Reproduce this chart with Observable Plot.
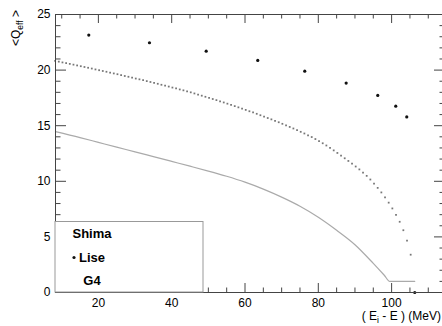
<!DOCTYPE html>
<html><head><meta charset="utf-8">
<script src="https://cdn.jsdelivr.net/npm/d3@7"></script>
<script src="https://cdn.jsdelivr.net/npm/@observablehq/plot@0.6"></script>
<style>html,body{margin:0;padding:0;background:#fff;overflow:hidden;} #chart svg{display:block;}</style>
</head><body><div id="chart"></div>
<script>
// ---- data ----
const shimaE = [8.2,9.2,10.2,11.2,12.2,13.2,14.2,15.2,16.2,17.2,
  18.2,19.2,20.2,21.2,22.2,23.2,24.2,25.2,26.2,27.2,
  28.2,29.2,30.2,31.2,32.2,33.2,34.2,35.2,36.2,37.2,
  38.2,39.2,40.2,41.2,42.2,43.2,44.2,45.2,46.2,47.2,
  48.2,49.2,50.2,51.2,52.2,53.2,54.2,55.2,56.2,57.2,
  58.2,59.2,60.2,61.2,62.2,63.2,64.2,65.2,66.2,67.2,
  68.2,69.2,70.2,71.2,72.2,73.2,74.2,75.2,76.2,77.2,
  78.2,79.2,80.2,81.2,82.2,83.2,84.2,85.2,86.2,87.2,
  88.2,89.2,90.2,91.2,92.2,93.2,94.2,95.2,96.2,97.2,
  98.2,99.2,100.2,101.2,102.2,103.2,104.2,105.2];
const shimaQ = [20.83,20.76,20.69,20.63,20.56,20.49,20.42,20.35,20.28,20.21,
  20.14,20.06,19.99,19.92,19.85,19.77,19.70,19.63,19.55,19.47,
  19.40,19.32,19.24,19.17,19.09,19.01,18.93,18.85,18.77,18.68,
  18.60,18.52,18.43,18.35,18.26,18.18,18.09,18.00,17.90,17.80,
  17.70,17.60,17.50,17.40,17.30,17.19,17.09,16.98,16.87,16.76,
  16.65,16.53,16.42,16.30,16.19,16.07,15.94,15.82,15.69,15.57,
  15.44,15.31,15.17,15.03,14.89,14.75,14.60,14.45,14.30,14.14,
  13.98,13.80,13.61,13.42,13.22,13.01,12.78,12.55,12.31,12.07,
  11.83,11.58,11.33,11.07,10.79,10.49,10.16,9.80,9.41,9.00,
  8.56,8.08,7.56,6.99,6.36,5.60,4.66,3.40];
const liseE = [17.38,33.94,49.41,63.48,76.30,87.60,96.22,101.13,104.13,106.31];
const liseQ = [23.15,22.46,21.70,20.87,19.90,18.83,17.72,16.76,15.79,0];
const g4E = [8.3,15,20,25,30,35,40,45,50,55,60,65,70,75,80,85,90,95,98,99.5,106.3];
const g4Q = [14.46,13.93,13.5,13.07,12.65,12.22,11.79,11.36,10.92,10.45,9.92,9.3,8.58,7.76,6.77,5.6,4.3,2.62,1.55,1.0,1.0];
const xTicks = [20,40,60,80,100];
const xMinor = [10,15,25,30,35,45,50,55,65,70,75,85,90,95,105,110];
const yTicks = [0,5,10,15,20,25];
const yMinor = [1,2,3,4,6,7,8,9,11,12,13,14,16,17,18,19,21,22,23,24];
const legendLabels = ["Shima","Lise","G4"];
const yLabel = ["<Q", "eff", " >"];
const xLabel = ["( E", "i", " - E ) (MeV)"];

// ---- layout ----
const W = 442, H = 326, mL = 55, mR = -3, mT = 14, mB = 34;
const plotW = W - mL - mR, plotH = H - mT - mB;
const axisCol = "#444";
const font = "'Liberation Sans', Arial, Helvetica, sans-serif";

const shima = shimaE.map((e,i)=>({e, q: shimaQ[i]}));
const lise = liseE.map((e,i)=>({e, q: liseQ[i]}));
const g4 = g4E.map((e,i)=>({e, q: g4Q[i]}));

const svg = Plot.plot({
  width: W, height: H,
  marginLeft: mL, marginRight: mR, marginTop: mT, marginBottom: mB,
  x: {domain: [8.3, 114.7]},
  y: {domain: [0, 25]},
  style: {fontFamily: font, fontSize: "12px", color: "#000", background: "#fff", overflow: "visible"},
  marks: [
    Plot.line(g4, {x: "e", y: "q", stroke: "#aaa", strokeWidth: 1.2, curve: "monotone-x"}),
    Plot.dot(shima, {x: "e", y: "q", symbol: "square", r: 1.0, fill: "#777", stroke: null}),
    Plot.dot(lise, {x: "e", y: "q", r: 1.6, fill: "#111", stroke: null}),
    // ticks inward: bottom / top
    Plot.tickX(xTicks, {x: d => d, insetTop: plotH - 9, stroke: axisCol}),
    Plot.tickX(xMinor, {x: d => d, insetTop: plotH - 4.5, stroke: axisCol}),
    Plot.tickX(xTicks, {x: d => d, insetBottom: plotH - 9, stroke: axisCol}),
    Plot.tickX(xMinor, {x: d => d, insetBottom: plotH - 4.5, stroke: axisCol}),
    // ticks inward: left / right
    Plot.tickY(yTicks, {y: d => d, insetRight: plotW - 11, stroke: axisCol}),
    Plot.tickY(yMinor, {y: d => d, insetRight: plotW - 5.5, stroke: axisCol}),
    Plot.tickY(yTicks, {y: d => d, insetLeft: plotW - 11, stroke: axisCol}),
    Plot.tickY(yMinor, {y: d => d, insetLeft: plotW - 5.5, stroke: axisCol}),
    Plot.frame({stroke: axisCol}),
    Plot.axisX(xTicks, {tickSize: 0, tickPadding: 6, label: null, fontSize: 12}),
    Plot.axisY(yTicks, {tickSize: 0, tickPadding: 5, label: null, fontSize: 12})
  ]
});

const s = d3.select(svg);
// legend
const lg = s.append("g");
lg.append("rect").attr("x", 55).attr("y", 221.5).attr("width", 148).attr("height", 70.5)
  .attr("fill", "#fff").attr("stroke", "#999").attr("stroke-width", 1);
lg.append("rect").attr("x", 73.3).attr("y", 232.8).attr("width", 1.4).attr("height", 1.4).attr("fill", "#999");
lg.append("circle").attr("cx", 74).attr("cy", 257.5).attr("r", 1.6).attr("fill", "#111");
const baselines = [237.8, 261.7, 285.3];
legendLabels.forEach((t, i) => {
  lg.append("text").attr("x", 92).attr("y", baselines[i]).attr("font-family", font)
    .attr("font-size", 13).attr("font-weight", "bold").attr("fill", "#000").text(t);
});
// y label
const yl = s.append("text").attr("transform", "translate(20,10) rotate(-90)")
  .attr("text-anchor", "end").attr("font-family", font).attr("font-size", 12).attr("fill", "#000");
yl.append("tspan").text(yLabel[0]);
yl.append("tspan").attr("font-size", 8.5).attr("dy", 3).text(yLabel[1]);
yl.append("tspan").attr("dy", -3).text(yLabel[2]);
// x label
const xl = s.append("text").attr("x", 441).attr("y", 320).attr("text-anchor", "end")
  .attr("font-family", font).attr("font-size", 12).attr("fill", "#000");
xl.append("tspan").text(xLabel[0]);
xl.append("tspan").attr("font-size", 8.5).attr("dy", 3).text(xLabel[1]);
xl.append("tspan").attr("dy", -3).text(xLabel[2]);

document.getElementById("chart").appendChild(svg);
</script>
</body></html>
